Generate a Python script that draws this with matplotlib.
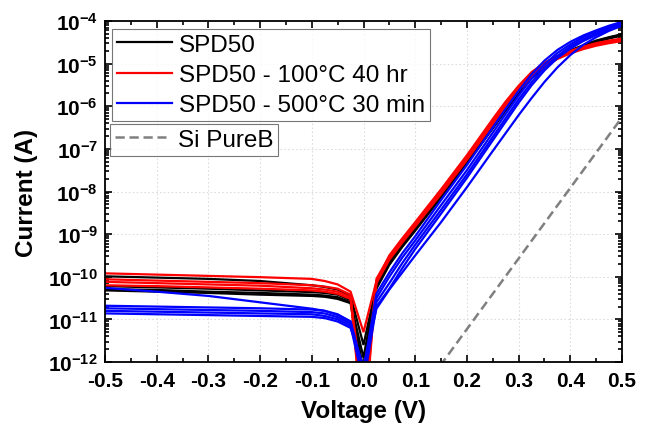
import matplotlib
matplotlib.use("Agg")
import matplotlib.pyplot as plt
from matplotlib.lines import Line2D
from matplotlib.ticker import FixedLocator, LogLocator, FuncFormatter, MultipleLocator, NullFormatter
import numpy as np

plt.rcParams['font.family'] = ['Liberation Sans', 'DejaVu Sans']
plt.rcParams['mathtext.fontset'] = 'custom'
plt.rcParams['mathtext.rm'] = 'Liberation Sans:bold'
plt.rcParams['mathtext.bf'] = 'Liberation Sans:bold'
plt.rcParams['mathtext.it'] = 'Liberation Sans:bold'
plt.rcParams['axes.unicode_minus'] = False

# ---------------- data ----------------
voltage = [-0.5, -0.4, -0.3, -0.2, -0.1, -0.075, -0.05, -0.025, 0.0,
           0.025, 0.05, 0.075, 0.1, 0.15, 0.2, 0.25, 0.275, 0.3, 0.325,
           0.35, 0.375, 0.4, 0.425, 0.45, 0.475, 0.5]

# log10(current / A) for each measured device
spd50_log = [
    [-9.99, -10.02, -10.05, -10.10, -10.20, -10.24, -10.30, -10.45, -11.6,
     -10.20, -9.65, -9.22, -8.85, -8.07, -7.27, -6.45, -6.04, -5.64, -5.30, -5.04, -4.84, -4.69, -4.57, -4.46, -4.38, -4.31],
    [-10.22, -10.25, -10.28, -10.32, -10.36, -10.38, -10.42, -10.55, -12.2,
     -10.25, -9.70, -9.27, -8.90, -8.12, -7.32, -6.50, -6.08, -5.68, -5.33, -5.07, -4.86, -4.71, -4.59, -4.48, -4.40, -4.33],
    [-10.29, -10.31, -10.35, -10.38, -10.42, -10.44, -10.48, -10.60, -11.9,
     -10.22, -9.68, -9.25, -8.88, -8.10, -7.30, -6.48, -6.06, -5.66, -5.32, -5.06, -4.85, -4.70, -4.58, -4.47, -4.39, -4.32],
    [-10.32, -10.35, -10.38, -10.42, -10.45, -10.47, -10.52, -10.62, -12.5,
     -10.28, -9.72, -9.30, -8.92, -8.14, -7.34, -6.52, -6.10, -5.70, -5.35, -5.09, -4.88, -4.73, -4.60, -4.49, -4.41, -4.34],
]
spd50_100c_log = [
    [-9.92, -9.95, -9.98, -10.01, -10.05, -10.10, -10.18, -10.35, -11.3,
     -10.10, -9.50, -9.10, -8.72, -7.95, -7.15, -6.30, -5.89, -5.52, -5.20, -4.98, -4.82, -4.70, -4.60, -4.52, -4.46, -4.41],
    [-10.06, -10.09, -10.12, -10.15, -10.20, -10.23, -10.28, -10.42, -13.8,
     -10.05, -9.52, -9.12, -8.75, -7.98, -7.18, -6.34, -5.93, -5.55, -5.23, -5.00, -4.84, -4.72, -4.62, -4.54, -4.48, -4.43],
    [-10.12, -10.15, -10.18, -10.21, -10.27, -10.30, -10.35, -10.48, -13.5,
     -10.12, -9.56, -9.16, -8.78, -8.02, -7.22, -6.38, -5.97, -5.59, -5.26, -5.03, -4.86, -4.74, -4.64, -4.56, -4.50, -4.45],
    [-10.20, -10.22, -10.25, -10.28, -10.32, -10.35, -10.40, -10.52, -12.8,
     -10.15, -9.60, -9.20, -8.82, -8.06, -7.26, -6.42, -6.01, -5.63, -5.30, -5.06, -4.89, -4.76, -4.66, -4.58, -4.52, -4.47],
]
spd50_500c_log = [
    [-10.26, -10.35, -10.45, -10.60, -10.75, -10.80, -10.88, -11.05, -12.2,
     -10.40, -9.90, -9.45, -9.05, -8.20, -7.38, -6.50, -6.06, -5.64, -5.25, -4.93, -4.68, -4.49, -4.34, -4.22, -4.11, -4.02],
    [-10.68, -10.70, -10.72, -10.74, -10.77, -10.80, -10.90, -11.05, -12.4,
     -10.50, -10.00, -9.55, -9.15, -8.32, -7.50, -6.62, -6.18, -5.75, -5.35, -5.02, -4.75, -4.55, -4.38, -4.25, -4.14, -4.04],
    [-10.74, -10.76, -10.78, -10.80, -10.83, -10.86, -10.95, -11.10, -12.3,
     -10.60, -10.15, -9.68, -9.25, -8.43, -7.60, -6.72, -6.28, -5.84, -5.44, -5.10, -4.82, -4.60, -4.43, -4.29, -4.17, -4.07],
    [-10.80, -10.82, -10.84, -10.86, -10.88, -10.92, -11.00, -11.15, -12.5,
     -10.70, -10.28, -9.80, -9.35, -8.52, -7.68, -6.80, -6.36, -5.92, -5.51, -5.16, -4.87, -4.65, -4.47, -4.33, -4.21, -4.10],
    [-10.86, -10.88, -10.90, -10.92, -10.94, -10.97, -11.05, -11.20, -12.1,
     -10.75, -10.30, -9.90, -9.50, -8.72, -7.90, -7.05, -6.63, -6.21, -5.81, -5.43, -5.09, -4.80, -4.56, -4.38, -4.23, -4.11],
]
si_pureb_v = [0.1, 0.5]
si_pureb_i = [1.3e-13, 5.5e-7]

series_labels = ["SPD50", "SPD50 - 100°C 40 hr", "SPD50 - 500°C 30 min"]
ref_label = "Si PureB"
x_ticks = [-0.5, -0.4, -0.3, -0.2, -0.1, 0.0, 0.1, 0.2, 0.3, 0.4, 0.5]
x_ticklabels = ["-0.5", "-0.4", "-0.3", "-0.2", "-0.1", "0.0", "0.1", "0.2", "0.3", "0.4", "0.5"]
y_exponents = [-12, -11, -10, -9, -8, -7, -6, -5, -4]

# ---------------- figure ----------------
W, H = 649, 427
fig = plt.figure(figsize=(W / 100, H / 100), dpi=100)
AX_L, AX_R, AX_T, AX_B = 105, 622, 22, 363
ax = fig.add_axes([AX_L / W, 1 - AX_B / H, (AX_R - AX_L) / W, (AX_B - AX_T) / H])

v = np.array(voltage)
lw = 1.6
for curves, col in [(spd50_log, "black"), (spd50_100c_log, "#ff0000"), (spd50_500c_log, "#0000ff")]:
    for c in curves:
        ax.plot(v, 10.0 ** np.array(c), color=col, lw=lw, solid_joinstyle="miter")

dash = (0, (3.7, 1.9))
ax.plot(si_pureb_v, si_pureb_i, color="#808080", lw=1.8, ls=dash)

ax.set_yscale("log")
ax.set_xlim(-0.5, 0.5)
ax.set_ylim(1e-12, 1e-4)

ax.xaxis.set_major_locator(FixedLocator(x_ticks))
ax.set_xticklabels(x_ticklabels)
ax.xaxis.set_minor_locator(MultipleLocator(0.05))
ax.yaxis.set_major_locator(FixedLocator([10.0 ** e for e in y_exponents]))
ax.yaxis.set_major_formatter(FuncFormatter(lambda y, p: r"$\mathbf{10^{%d}}$" % round(np.log10(y))))
ax.yaxis.set_minor_locator(LogLocator(base=10, subs=np.arange(2, 10), numticks=20))
ax.yaxis.set_minor_formatter(NullFormatter())

ax.tick_params(which="both", direction="in", top=True, right=True, width=1.2)
ax.tick_params(which="major", length=5, labelsize=15)
ax.tick_params(axis="x", which="major", pad=6.5)
ax.tick_params(axis="y", which="major", pad=5)
ax.tick_params(which="minor", length=3)
for lab in ax.get_xticklabels() + ax.get_yticklabels():
    lab.set_fontweight("bold")
for s in ax.spines.values():
    s.set_linewidth(1.3)

ax.grid(True, which="major", color="#dddddd", ls=(0, (1.5, 2.0)), lw=0.8)
ax.set_axisbelow(True)

ax.set_xlabel("Voltage (V)", fontsize=17.5, fontweight="bold")
ax.set_ylabel("Current (A)", fontsize=17.5, fontweight="bold")
ax.xaxis.set_label_coords(0.5, -(400 - AX_B) / (AX_B - AX_T))
ax.yaxis.set_label_coords(-(AX_L - 38) / (AX_R - AX_L), 0.5)

handles = [Line2D([], [], color=c, lw=lw) for c in ["black", "#ff0000", "#0000ff"]]
leg1 = ax.legend(handles, series_labels, loc="upper left",
                 bbox_to_anchor=(112 / W, 1 - 30 / H), bbox_transform=fig.transFigure,
                 fontsize=17.5, frameon=True, fancybox=False, edgecolor="#555555",
                 handlelength=2.26, handletextpad=0.3, borderpad=0.2, labelspacing=0.34,
                 borderaxespad=0)
leg1.get_frame().set_linewidth(0.8)
ax.add_artist(leg1)
h2 = [Line2D([], [], color="#808080", lw=1.8, ls=dash)]
leg2 = ax.legend(h2, [ref_label], loc="upper left",
                 bbox_to_anchor=(110 / W, 1 - 125 / H), bbox_transform=fig.transFigure,
                 fontsize=17.5, frameon=True, fancybox=False, edgecolor="#555555",
                 handlelength=2.1, handletextpad=0.5, borderpad=0.2, borderaxespad=0)
leg2.get_frame().set_linewidth(0.8)

fig.savefig("out.png", dpi=100)
